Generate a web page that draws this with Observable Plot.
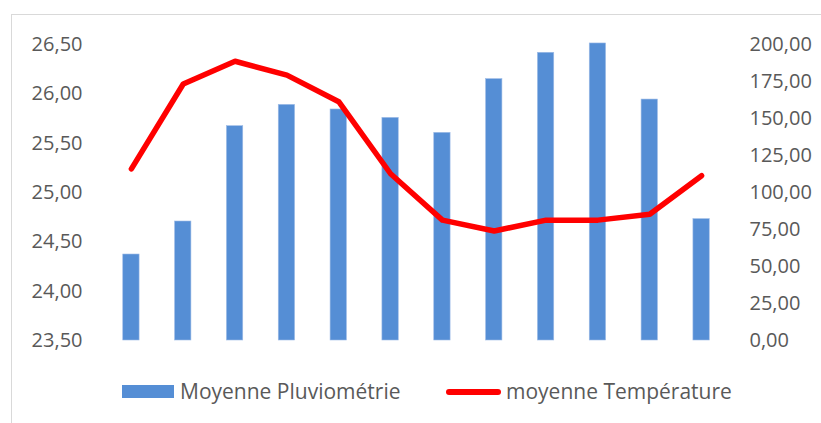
<!DOCTYPE html>
<html>
<head>
<meta charset="utf-8">
<script src="https://cdn.jsdelivr.net/npm/d3@7"></script>
<script src="https://cdn.jsdelivr.net/npm/@observablehq/plot@0.6"></script>
<style>
  html, body { margin: 0; padding: 0; background: #fff; }
  #wrap { position: relative; width: 821px; height: 423px; overflow: hidden; font-family: "Open Sans", sans-serif; }
  #frame { position: absolute; left: 11px; top: 14px; width: 830px; height: 430px; border: 1.5px solid #d9d9d9; box-sizing: border-box; }
  #chart { position: absolute; left: 0; top: 0; }
  #legend { position: absolute; left: 0; top: 372px; width: 821px; height: 40px; font-size: 21px; color: #595959; }
  .sw { position: absolute; }
  .lbl { position: absolute; top: 5px; line-height: 28px; white-space: nowrap; }
</style>
</head>
<body>
<div id="wrap">
  <div id="frame"></div>
  <div id="chart"></div>
  <div id="legend">
    <div class="sw" style="left:122px; top:13px; width:52px; height:13px; background:#558ED5;"></div>
    <div class="lbl" style="left:180px;">Moyenne Pluviométrie</div>
    <div class="sw" style="left:446px; top:17px; width:55px; height:6px; border-radius:3px; background:#FF0000;"></div>
    <div class="lbl" style="left:506px;">moyenne Température</div>
  </div>
</div>
<script>
const months = ["Jan", "Fév", "Mar", "Avr", "Mai", "Juin", "Juil", "Août", "Sep", "Oct", "Nov", "Déc"];
const pluvio = [58.1, 80.4, 144.8, 159.2, 156.1, 150.4, 140.3, 176.6, 194.4, 200.7, 162.8, 82.0];
const temperature = [25.24, 26.10, 26.33, 26.19, 25.92, 25.19, 24.72, 24.61, 24.72, 24.72, 24.78, 25.17];
const tempTicks = [23.5, 24.0, 24.5, 25.0, 25.5, 26.0, 26.5];
const pluvioTicks = [0, 25, 50, 75, 100, 125, 150, 175, 200];

const tMin = 23.5, tMax = 26.5, pMax = 200;
const toP = t => (t - tMin) / (tMax - tMin) * pMax;
const fmt = v => v.toFixed(2).replace(".", ",");

const rows = months.map((m, i) => ({month: m, pluvio: pluvio[i], temp: temperature[i]}));

const chart = Plot.plot({
  width: 821,
  height: 370,
  marginLeft: 105,
  marginRight: 94,
  marginTop: 44,
  marginBottom: 30,
  style: {fontFamily: "Open Sans, sans-serif", fontSize: "20px", color: "#595959", background: "transparent"},
  x: {domain: months, paddingInner: 0.685, paddingOuter: 0.3425, round: false, axis: null},
  y: {domain: [0, pMax], axis: null},
  marks: [
    Plot.barY(rows, {x: "month", y: "pluvio", fill: "#558ED5", stroke: "#9dbbe6", strokeWidth: 0.6}),
    Plot.line(rows, {x: "month", y: d => toP(d.temp), stroke: "#FF0000", strokeWidth: 5.5, strokeLinejoin: "round", strokeLinecap: "round"}),
    Plot.axisY(tempTicks.map(toP), {anchor: "left", label: null, tickSize: 0, tickPadding: 23, tickFormat: v => fmt(tMin + v / pMax * (tMax - tMin)), fill: "#595959", fontSize: 20}),
    Plot.axisY(pluvioTicks, {anchor: "right", label: null, tickSize: 0, tickPadding: 22, tickFormat: fmt, fill: "#595959", fontSize: 20})
  ]
});
document.getElementById("chart").appendChild(chart);
</script>
</body>
</html>
